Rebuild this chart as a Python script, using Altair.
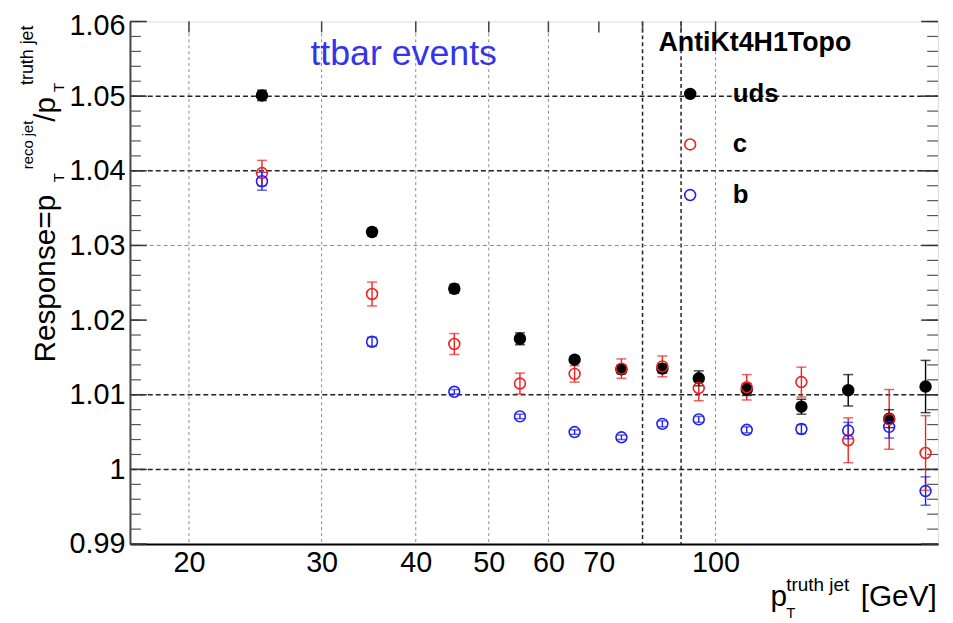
import altair as alt
import pandas as pd

# ---- data ----
pt = [25, 35, 45, 55, 65, 75, 85, 95, 110, 130, 150, 170, 190]
uds = [1.0501, 1.0318, 1.0242, 1.0175, 1.0147, 1.0134, 1.0135, 1.0122, 1.0107, 1.0084, 1.0106, 1.0068, 1.0111]
uds_err = [0.0007, 0.0005, 0.0006, 0.0008, 0.0004, 0.0006, 0.0006, 0.0010, 0.0008, 0.0010, 0.0021, 0.0012, 0.0035]
c_vals = [1.0397, 1.0235, 1.0168, 1.0115, 1.0128, 1.0135, 1.0138, 1.0109, 1.0110, 1.0117, 1.0039, 1.0067, 1.0022]
c_err = [0.0017, 0.0016, 0.0014, 0.0014, 0.0011, 0.0013, 0.0014, 0.0017, 0.0017, 0.0020, 0.0030, 0.0040, 0.0050]
b_vals = [1.0386, 1.0171, 1.0104, 1.0071, 1.0050, 1.0043, 1.0061, 1.0067, 1.0053, 1.0054, 1.0052, 1.0057, 0.9971]
b_err = [0.0012, 0.0006, 0.0003, 0.0003, 0.0003, 0.0003, 0.0004, 0.0004, 0.0004, 0.0006, 0.0011, 0.0015, 0.0019]

flavors = ["uds", "c", "b"]
stroke_colors = ["#000000", "#f02020", "#2020f0"]
fill_colors = ["#000000", "transparent", "transparent"]

x_label_values = [20, 30, 40, 50, 60, 70, 100]
x_grid_light = [20, 30, 40, 50, 60, 100]
x_grid_dark = [80, 90]
x_top_ticks = [20, 30, 40, 50, 60, 70, 80, 90, 100]
y_label_values = [0.99, 1.0, 1.01, 1.02, 1.03, 1.04, 1.05, 1.06]
y_grid_dark = [1.0, 1.01, 1.04, 1.05]
y_grid_light = [1.03]
y_major_ticks = [0.99, 1.0, 1.01, 1.02, 1.03, 1.04, 1.05, 1.06]
y_minor_ticks = [round(0.99 + 0.002 * i, 3) for i in range(36)]

rows = []
for name, vals, errs in [("uds", uds, uds_err), ("c", c_vals, c_err), ("b", b_vals, b_err)]:
    for x, v, e in zip(pt, vals, errs):
        rows.append({"pt": x, "resp": v, "lo": v - e, "hi": v + e, "flavor": name})
df = pd.DataFrame(rows)

W, H = 815, 527
FONT = "Liberation Sans"

xscale = alt.Scale(type="log", domain=[16.7, 197.4], nice=False)
yscale = alt.Scale(domain=[0.99, 1.06], nice=False, zero=False)
xaxis = alt.Axis(values=x_label_values, format="d", labelFontSize=29, labelFont=FONT,
                 labelColor="black", ticks=False, grid=False, domainColor="black",
                 domainWidth=2, labelPadding=5, labelFlush=False, labelOverlap=False)
yaxis = alt.Axis(values=y_label_values,
                 labelExpr="abs(datum.value-1)<1e-9 ? '1' : format(datum.value, '.2f')",
                 labelFontSize=29, labelFont=FONT, labelColor="black", ticks=False, grid=False,
                 domainColor="#444444", domainWidth=2, labelPadding=5, labelFlush=False,
                 labelOverlap=False,
                 labelOffset={"condition": {"test": "datum.value > 1.055", "value": 4}, "value": 0})


def X(f):
    return alt.X(f, type="quantitative", scale=xscale, axis=xaxis, title=None)


def Y(f):
    return alt.Y(f, type="quantitative", scale=yscale, axis=yaxis, title=None)


def listdf(col, vals):
    return pd.DataFrame({col: vals})


gx_light = alt.Chart(listdf("v", x_grid_light)).mark_rule(
    color="#8a8a8a", strokeWidth=1, strokeDash=[3, 3]).encode(x=X("v"))
gx_dark = alt.Chart(listdf("v", x_grid_dark)).mark_rule(
    color="#222222", strokeWidth=1.5, strokeDash=[4, 3]).encode(x=X("v"))
gy_dark = alt.Chart(listdf("v", y_grid_dark)).mark_rule(
    color="#222222", strokeWidth=1.5, strokeDash=[5, 3]).encode(y=Y("v"))
gy_light = alt.Chart(listdf("v", y_grid_light)).mark_rule(
    color="#8a8a8a", strokeWidth=1, strokeDash=[4, 3]).encode(y=Y("v"))

tick_major_l = alt.Chart(listdf("v", y_major_ticks)).mark_rule(color="#333", strokeWidth=1.5).encode(
    y=Y("v"), x=alt.value(0), x2=alt.value(17))
tick_minor_l = alt.Chart(listdf("v", y_minor_ticks)).mark_rule(color="#555", strokeWidth=1.2).encode(
    y=Y("v"), x=alt.value(0), x2=alt.value(11))
tick_major_r = alt.Chart(listdf("v", y_major_ticks)).mark_rule(color="#333", strokeWidth=1.5).encode(
    y=Y("v"), x=alt.value(W), x2=alt.value(W - 17))
tick_minor_r = alt.Chart(listdf("v", y_minor_ticks)).mark_rule(color="#555", strokeWidth=1.2).encode(
    y=Y("v"), x=alt.value(W), x2=alt.value(W - 11))
tick_top = alt.Chart(listdf("v", x_top_ticks)).mark_rule(color="#444", strokeWidth=1.5).encode(
    x=X("v"), y=alt.value(0), y2=alt.value(11))

cscale = alt.Scale(domain=flavors, range=stroke_colors)
err = alt.Chart(df).mark_rule(strokeWidth=1.4).encode(
    x=X("pt"), y=Y("lo"), y2=alt.Y2("hi"),
    color=alt.Color("flavor:N", scale=cscale, legend=None))
cap_lo = alt.Chart(df).mark_tick(orient="horizontal", size=10, thickness=1.5).encode(
    x=X("pt"), y=Y("lo"), color=alt.Color("flavor:N", scale=cscale, legend=None))
cap_hi = alt.Chart(df).mark_tick(orient="horizontal", size=10, thickness=1.5).encode(
    x=X("pt"), y=Y("hi"), color=alt.Color("flavor:N", scale=cscale, legend=None))

legend = alt.Legend(title="AntiKt4H1Topo", orient="none", legendX=533, legendY=9,
                    titleFontSize=27, titleFontWeight="bold", titleFont=FONT, titleColor="black",
                    titleLimit=400, labelLimit=200,
                    labelFontSize=26, labelFontWeight="bold", labelFont=FONT, labelColor="black",
                    symbolSize=120, symbolStrokeWidth=1.6, symbolOffset=19, labelOffset=30,
                    rowPadding=25, titlePadding=24, padding=0, symbolType="circle")

points = alt.Chart(df).mark_point(shape="circle", size=120, strokeWidth=1.6, opacity=1).encode(
    x=X("pt"), y=Y("resp"),
    stroke=alt.Stroke("flavor:N", scale=alt.Scale(domain=flavors, range=stroke_colors), legend=legend),
    fill=alt.Fill("flavor:N", scale=alt.Scale(domain=flavors, range=fill_colors), legend=legend))


def txt(s, x, y, size, angle=0, color="black", weight="normal", align="left"):
    kw = dict(fontSize=size, font=FONT, color=color, align=align, baseline="alphabetic", fontWeight=weight)
    if angle:
        kw["angle"] = angle
    return alt.Chart(pd.DataFrame({"t": [s]})).mark_text(**kw).encode(
        text="t:N", x=alt.value(x), y=alt.value(y))


annotations = [
    txt("ttbar events", 182, 44, 36, color="#3535e8"),
    # y-axis title
    txt("Response=p", -76, 344, 30, angle=270),
    txt("T", -67, 162, 15, angle=270),
    txt("reco jet", -98, 149, 15, angle=270),
    txt("/p", -76, 101, 30, angle=270),
    txt("T", -67, 71, 15, angle=270),
    txt("truth jet", -98, 64, 18, angle=270),
    # x-axis title
    txt("p", 646, 589, 30),
    txt("T", 662, 602, 15),
    txt("truth jet", 662, 574, 19),
    txt("[GeV]", 737, 589, 30),
]

chart = alt.layer(
    gx_light, gx_dark, gy_light, gy_dark,
    tick_minor_l, tick_major_l, tick_minor_r, tick_major_r, tick_top,
    err, cap_lo, cap_hi, points, *annotations
).resolve_scale(color="independent").properties(
    width=W, height=H,
    autosize=alt.AutoSizeParams(type="none"),
    padding={"left": 123, "top": 11, "right": 7, "bottom": 77},
).configure_view(stroke="#777777", strokeWidth=1.5).configure(background="white")

chart.save("out.html", embed_options={"renderer": "svg", "actions": False})
